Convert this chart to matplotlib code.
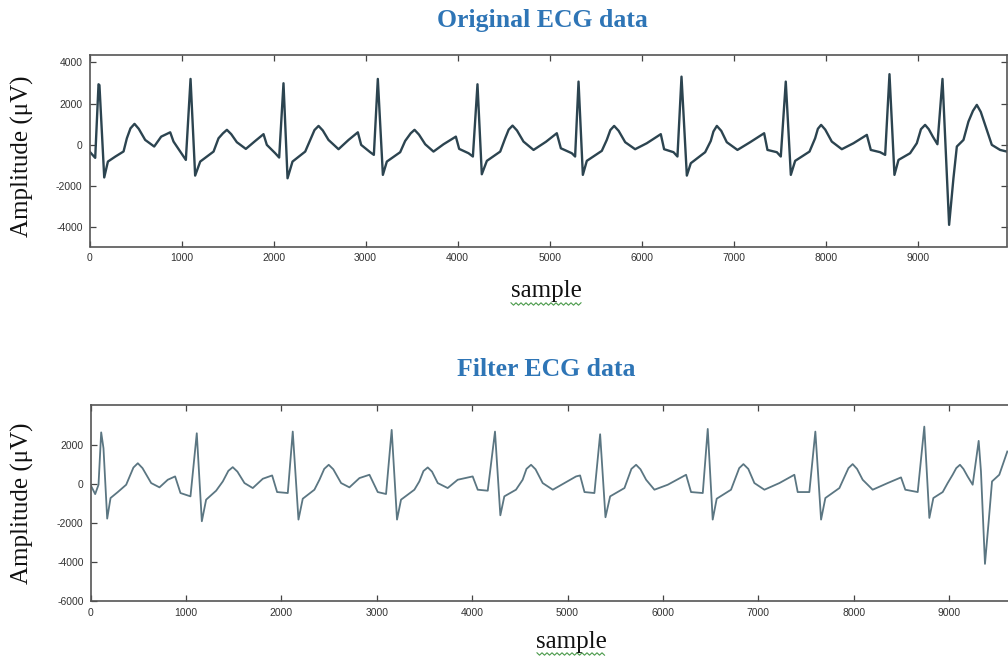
import matplotlib
matplotlib.use("Agg")
import matplotlib.pyplot as plt
from matplotlib.lines import Line2D

# values (sample index, amplitude in uV)
orig_x = [0, 62, 98, 108, 160, 200, 280, 370, 406, 445, 489, 535, 605, 703, 779, 877, 913, 985, 1047,
          1098, 1148, 1203, 1348, 1402, 1450, 1493, 1540, 1601, 1699, 1801, 1891, 1927, 2018, 2061,
          2108, 2152, 2206, 2344, 2398, 2445, 2489, 2535, 2597, 2706, 2815, 2916, 2952, 3050, 3090,
          3133, 3188, 3231, 3376, 3430, 3490, 3532, 3580, 3648, 3738, 3847, 3981, 4017, 4119, 4166,
          4216, 4263, 4318, 4463, 4517, 4555, 4597, 4645, 4716, 4825, 4960, 5078, 5122, 5241, 5277,
          5314, 5361, 5404, 5567, 5621, 5660, 5701, 5750, 5821, 5929, 6056, 6208, 6244, 6346, 6389,
          6433, 6491, 6534, 6690, 6751, 6780, 6817, 6865, 6925, 7041, 7179, 7331, 7367, 7469, 7512,
          7566, 7621, 7668, 7824, 7885, 7915, 7950, 7995, 8066, 8175, 8302, 8447, 8490, 8591, 8646,
          8693, 8747, 8791, 8917, 8990, 9035, 9080, 9120, 9164, 9214,
          9269, 9298, 9341, 9388, 9425, 9497, 9551, 9600, 9642, 9685, 9732, 9805, 9895, 9968]
orig_y = [-320, -630, 2940, 2900, -1580, -810, -570, -320, 320, 800, 1020, 780, 240, -80, 400, 610, 160, -320, -730,
          3200, -1490, -810, -325, 320, 560, 730, 520, 130, -195, 190, 520, 0, -405, -615,
          2990, -1620, -810, -325, 240, 720, 920, 700, 240, -210, 240, 610, 0, -355, -485,
          3200, -1455, -810, -355, 190, 560, 730, 500, 30, -325, 30, 400, -195, -405, -565,
          2940, -1425, -775, -325, 320, 740, 935, 700, 160, -245, 150, 565, -165, -405, -565,
          3070, -1455, -775, -290, 240, 720, 920, 680, 130, -210, 80, 520, -210, -355, -565,
          3310, -1490, -890, -355, 190, 650, 920, 680, 130, -245, 130, 565, -245, -355, -565,
          3070, -1455, -775, -325, 320, 780, 970, 740, 160, -210, 80, 485, -245, -355, -485,
          3430, -1455, -730, -405, 80, 760, 970, 760, 400, 30,
          3200, 320, -3880, -1620, -80, 240, 1130, 1650, 1940, 1600, 970, 0, -245, -325]

filt_x = [0, 49, 84, 112, 136, 175, 210, 286, 374, 450, 496, 545, 636, 723, 810, 887, 943, 1048,
          1114, 1167, 1212, 1317, 1387, 1445, 1491, 1540, 1614, 1701, 1806, 1904, 1956, 2068,
          2120, 2180, 2225, 2347, 2400, 2450, 2497, 2545, 2627, 2714, 2819, 2924, 3011, 3098,
          3157, 3213, 3255, 3395, 3447, 3490, 3535, 3580, 3640, 3744, 3849, 4006, 4059, 4164,
          4240, 4296, 4338, 4460, 4530, 4570, 4618, 4665, 4740, 4846, 4968, 5090, 5132, 5178, 5282,
          5342, 5398, 5447, 5597, 5670, 5719, 5765, 5824, 5911, 6051, 6243, 6295, 6418,
          6470, 6522, 6564, 6714, 6800, 6844, 6895, 6959, 7064, 7221, 7378, 7413, 7535,
          7598, 7658, 7703, 7850, 7945, 7989, 8035, 8094, 8199, 8356, 8496, 8541, 8671,
          8740, 8793, 8835, 8933, 8985, 9037, 9075, 9114, 9150, 9194, 9247,
          9310, 9334, 9376, 9415, 9450, 9526, 9610]
filt_y = [-50, -530, -50, 2630, 1820, -1785, -730, -425, -50, 830, 1050, 800, 35, -185, 205, 375, -475, -645,
          2585, -1920, -815, -355, 120, 660, 850, 620, 35, -220, 255, 425, -425, -475,
          2670, -1835, -765, -305, 205, 760, 970, 740, 35, -185, 290, 460, -425, -525,
          2755, -1835, -815, -305, 120, 650, 835, 620, 35, -220, 205, 375, -305, -355,
          2670, -1615, -645, -305, 205, 760, 970, 740, 35, -305, 35, 375, 425, -425, -475,
          2535, -1715, -645, -220, 760, 970, 740, 205, -305, -50, 460, -425, -475,
          2805, -1835, -765, -305, 800, 1005, 760, 35, -305, 35, 460, -425, -425,
          2670, -1835, -730, -220, 800, 1005, 760, 205, -305, 35, 325, -305, -425,
          2925, -1750, -730, -425, 35, 460, 800, 970, 760, 375, -50,
          2195, 630, -4100, -1920, 120, 460, 1650]

y_ticks_top = [-4000, -2000, 0, 2000, 4000]
y_ticks_bot = [-6000, -4000, -2000, 0, 2000]
x_ticks = [0, 1000, 2000, 3000, 4000, 5000, 6000, 7000, 8000, 9000]

plt.rcParams['axes.unicode_minus'] = False
plt.rcParams['font.family'] = ['Liberation Sans', 'DejaVu Sans']

W, H = 1008, 657
fig = plt.figure(figsize=(W / 100, H / 100), dpi=100)

title_color = '#2e75b6'
serif = ['Liberation Serif', 'DejaVu Serif']


def style_axes(ax, yticks):
    ax.set_xticks(x_ticks)
    ax.set_yticks(yticks)
    ax.tick_params(direction='in', length=4, width=0.9, labelsize=7.5,
                   colors='#444444', labelcolor='#333333', top=True, right=True, pad=5)
    for s in ax.spines.values():
        s.set_color('#555555')
        s.set_linewidth(1.2)


def squiggle(x0, x1, y):
    # green spell-check underline seen under "sample" in the source document
    xs, ys = [], []
    k = 0
    x = x0
    while x <= x1:
        xs.append(x / W)
        ys.append(1 - (y + (1.2 if k % 2 else -1.2)) / H)
        x += 2.5
        k += 1
    fig.add_artist(Line2D(xs, ys, color='#4a9a4a', lw=0.8))


# top panel: original signal
ax1 = fig.add_axes([89.5 / W, 1 - 246.5 / H, 917.5 / W, 191.5 / H])
ax1.plot(orig_x, orig_y, color='#2c4450', lw=1.7, solid_joinstyle='round')
ax1.set_xlim(0, 9970)
ax1.set_ylim(-4930, 4360)
style_axes(ax1, y_ticks_top)

# bottom panel: filtered signal (right part is cut off in the source picture)
ax2 = fig.add_axes([90.5 / W, 1 - 601 / H, 954 / W, 196 / H])
ax2.plot(filt_x, filt_y, color='#5b7682', lw=1.3, solid_joinstyle='round')
ax2.set_xlim(0, 10000)
ax2.set_ylim(-6000, 4030)
style_axes(ax2, y_ticks_bot)

# titles and labels placed like in the original document
fig.text(542 / W, 1 - 20 / H, 'Original ECG data', ha='center', va='center',
         family=serif, fontweight='bold', fontsize=18.5, color=title_color)
fig.text(546 / W, 1 - 370 / H, 'Filter ECG data', ha='center', va='center',
         family=serif, fontweight='bold', fontsize=18.5, color=title_color)
fig.text(546 / W, 1 - 291 / H, 'sample', ha='center', va='center',
         family=serif, fontsize=18, color='#111111')
fig.text(571 / W, 1 - 642 / H, 'sample', ha='center', va='center',
         family=serif, fontsize=18, color='#111111')
fig.text(22 / W, 1 - 156 / H, 'Amplitude (\u03bcV)', ha='center', va='center',
         rotation=90, family=serif, fontsize=18, color='#111111')
fig.text(22 / W, 1 - 503 / H, 'Amplitude (\u03bcV)', ha='center', va='center',
         rotation=90, family=serif, fontsize=18, color='#111111')
squiggle(511, 581, 304)
squiggle(537, 606, 654)

fig.savefig('out.png', dpi=100)
